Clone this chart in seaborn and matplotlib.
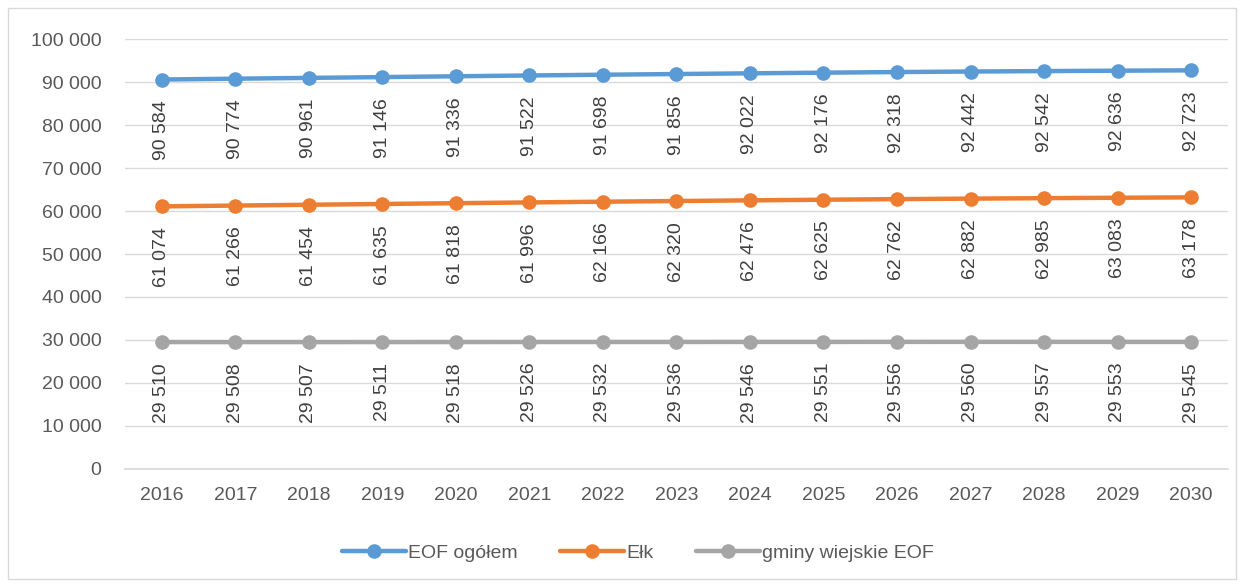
import matplotlib
matplotlib.use("Agg")
import matplotlib.pyplot as plt
import matplotlib.ticker as mticker
from matplotlib.patches import Rectangle
import seaborn as sns
import pandas as pd

years = list(range(2016, 2031))
eof_ogolem = [90584, 90774, 90961, 91146, 91336, 91522, 91698, 91856, 92022, 92176,
              92318, 92442, 92542, 92636, 92723]
elk = [61074, 61266, 61454, 61635, 61818, 61996, 62166, 62320, 62476, 62625,
       62762, 62882, 62985, 63083, 63178]
gminy = [29510, 29508, 29507, 29511, 29518, 29526, 29532, 29536, 29546, 29551,
         29556, 29560, 29557, 29553, 29545]
series_names = ["EOF ogółem", "Ełk", "gminy wiejskie EOF"]
colors = ["#5B9BD5", "#ED7D31", "#A5A5A5"]

rows = []
for name, vals in zip(series_names, [eof_ogolem, elk, gminy]):
    for y, v in zip(years, vals):
        rows.append({"rok": y, "wartosc": v, "seria": name})
df = pd.DataFrame(rows)

sns.set_theme(style="white")
plt.rcParams["font.family"] = ["Liberation Sans", "DejaVu Sans"]

fig = plt.figure(figsize=(12.44, 5.86), dpi=100)
ax = fig.add_axes([0.1005, 0.1997, 0.8865, 0.7337])

sns.lineplot(data=df, x="rok", y="wartosc", hue="seria", hue_order=series_names,
             palette=colors, marker="o", markersize=10.5, markeredgewidth=0,
             linewidth=3.2, ax=ax, legend=True)

fmt = lambda v: f"{int(v):,}".replace(",", " ")
for name, vals, c in zip(series_names, [eof_ogolem, elk, gminy], colors):
    for y, v in zip(years, vals):
        ax.annotate(fmt(v), (y, v), xytext=(0, -15), textcoords="offset points",
                    rotation=90, ha="center", va="top", fontsize=14, color="#404040")

ax.set_xlim(2015.5, 2030.5)
ax.set_ylim(0, 100000)
ax.set_yticks(range(0, 100001, 10000))
ax.yaxis.set_major_formatter(mticker.FuncFormatter(lambda v, p: fmt(v)))
ax.set_xticks(years)
ax.set_xticklabels([str(y) for y in years])
ax.tick_params(axis="both", labelsize=14, colors="#595959", length=0)
ax.tick_params(axis="x", pad=13)
ax.tick_params(axis="y", pad=17)
ax.grid(axis="y", color="#D9D9D9", linewidth=1)
ax.set_axisbelow(True)
for s in ["top", "right", "left"]:
    ax.spines[s].set_visible(False)
ax.spines["bottom"].set_color("#D9D9D9")
ax.set_xlabel("")
ax.set_ylabel("")

handles, labels = ax.get_legend_handles_labels()
ax.legend(handles, labels, loc="center", bbox_to_anchor=(0.465, -0.195), ncol=3,
          frameon=False, fontsize=14, handlelength=3.3, columnspacing=2.2,
          handletextpad=0.1, labelcolor="#595959")

fig.patches.append(Rectangle((0.0065, 0.012), 0.987, 0.975, transform=fig.transFigure,
                             fill=False, edgecolor="#D9D9D9", linewidth=1))

fig.savefig("out.png", dpi=100)
